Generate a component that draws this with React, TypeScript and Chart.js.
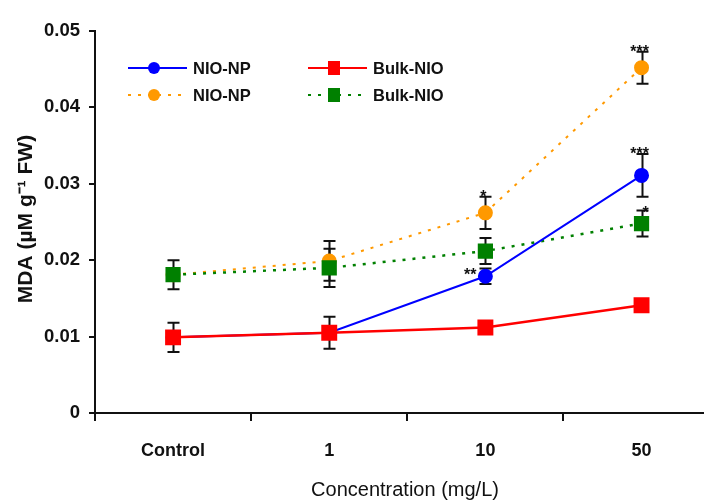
import React, { useEffect, useRef } from "react";
import { Chart, registerables } from "chart.js";
Chart.register(...registerables);

// ---- data ----
const categories = ["Control", "1", "10", "50"];
const seriesNames = ["NIO-NP", "Bulk-NIO", "NIO-NP", "Bulk-NIO"];
const yMin = 0;
const yMax = 0.05;
const yStep = 0.01;

const nioNpSolid = [0.0099, 0.0105, 0.0179, 0.0311];
const bulkNioSolid = [0.0099, 0.0105, 0.0112, 0.0141];
const nioNpDotted = [0.0181, 0.0199, 0.0262, 0.0452];
const bulkNioDotted = [0.0181, 0.019, 0.0212, 0.0248];

const nioNpSolidErr = [0, 0, 0.001, 0.0028];
const bulkNioSolidErr = [0.0019, 0.0021, 0, 0];
const nioNpDottedErr = [0, 0.0026, 0.0021, 0.0021];
const bulkNioDottedErr = [0.0019, 0.0025, 0.0017, 0.0017];

const nioNpSolidStars = ["", "", "**", "***"];
const bulkNioSolidStars = ["", "", "", ""];
const nioNpDottedStars = ["", "", "*", "***"];
const bulkNioDottedStars = ["", "", "", "*"];
// where each star label sits relative to its error bar
const nioNpSolidStarPos = ["", "", "left", "top"];
const bulkNioSolidStarPos = ["", "", "", ""];
const nioNpDottedStarPos = ["", "", "top", "top"];
const bulkNioDottedStarPos = ["", "", "", "topright"];

const xTitle = "Concentration (mg/L)";
const yTitle = "MDA (\u00B5M g\u207B\u00B9 FW)";

const FONT = '"Liberation Sans", Arial, sans-serif';
const TEXT = "#111111";

const toPts = (arr: number[]) => arr.map((v, i) => ({ x: i, y: v }));

const errorBarPlugin = {
  id: "errorBars",
  beforeDatasetsDraw(chart: any) {
    const { ctx } = chart;
    const xs = chart.scales.x;
    const ys = chart.scales.y;
    ctx.save();
    ctx.strokeStyle = TEXT;
    ctx.lineWidth = 2;
    chart.data.datasets.forEach((ds: any) => {
      ds.data.forEach((p: any, i: number) => {
        const e = ds.errors[i];
        if (!e) return;
        const px = Math.round(xs.getPixelForValue(p.x)) + 0.5;
        const t = ys.getPixelForValue(p.y + e);
        const b = ys.getPixelForValue(p.y - e);
        ctx.beginPath();
        ctx.moveTo(px, t);
        ctx.lineTo(px, b);
        ctx.moveTo(px - 6, t);
        ctx.lineTo(px + 6, t);
        ctx.moveTo(px - 6, b);
        ctx.lineTo(px + 6, b);
        ctx.stroke();
      });
    });
    ctx.restore();
  },
};

const starPlugin = {
  id: "stars",
  afterDatasetsDraw(chart: any) {
    const { ctx } = chart;
    const xs = chart.scales.x;
    const ys = chart.scales.y;
    ctx.save();
    ctx.fillStyle = TEXT;
    ctx.font = "bold 16px " + FONT;
    chart.data.datasets.forEach((ds: any) => {
      ds.data.forEach((p: any, i: number) => {
        const s = ds.stars[i];
        if (!s) return;
        const px = xs.getPixelForValue(p.x);
        const py = ys.getPixelForValue(p.y);
        const top = ys.getPixelForValue(p.y + (ds.errors[i] || 0));
        const pos = ds.starPos[i];
        if (pos === "top") {
          ctx.textAlign = "center";
          ctx.textBaseline = "alphabetic";
          ctx.fillText(s, px - 2, top + 5);
        } else if (pos === "left") {
          ctx.textAlign = "right";
          ctx.textBaseline = "alphabetic";
          ctx.fillText(s, px - 9, py + 4);
        } else if (pos === "topright") {
          ctx.textAlign = "left";
          ctx.textBaseline = "alphabetic";
          ctx.fillText(s, px + 1, top + 7);
        }
      });
    });
    ctx.restore();
  },
};

const legendPlugin = {
  id: "insideLegend",
  afterDraw(chart: any) {
    const { ctx } = chart;
    const slots = [
      { x: 128, y: 68 },
      { x: 308, y: 68 },
      { x: 128, y: 95 },
      { x: 308, y: 95 },
    ];
    ctx.save();
    chart.data.datasets.forEach((ds: any, i: number) => {
      const s = slots[i];
      ctx.strokeStyle = ds.borderColor;
      ctx.lineWidth = 2;
      ctx.setLineDash(ds.borderDash || []);
      ctx.beginPath();
      ctx.moveTo(s.x, s.y);
      ctx.lineTo(s.x + 59, s.y);
      ctx.stroke();
      ctx.setLineDash([]);
      ctx.fillStyle = ds.backgroundColor;
      const cx = s.x + 26;
      if (ds.pointStyle === "circle") {
        ctx.beginPath();
        ctx.arc(cx, s.y, 6, 0, Math.PI * 2);
        ctx.fill();
      } else {
        ctx.fillRect(cx - 6, s.y - 7, 12, 14);
      }
      ctx.fillStyle = TEXT;
      ctx.font = "bold 16.5px " + FONT;
      ctx.textAlign = "left";
      ctx.textBaseline = "middle";
      ctx.fillText(ds.label, s.x + 65, s.y + 1);
    });
    ctx.restore();
  },
};

const titlePlugin = {
  id: "axisTitles",
  afterDraw(chart: any) {
    const { ctx } = chart;
    ctx.save();
    ctx.fillStyle = TEXT;
    ctx.font = "20px " + FONT;
    ctx.textAlign = "center";
    ctx.textBaseline = "middle";
    ctx.fillText(xTitle, 405, 490);
    ctx.translate(26, 219);
    ctx.rotate(-Math.PI / 2);
    ctx.font = "bold 21px " + FONT;
    ctx.fillText(yTitle, 0, 0);
    ctx.restore();
  },
};

export default function App() {
  const ref = useRef<HTMLCanvasElement | null>(null);
  useEffect(() => {
    if (!ref.current) return;
    const chart = new Chart(ref.current, {
      type: "line",
      data: {
        datasets: [
          {
            label: seriesNames[0],
            data: toPts(nioNpSolid),
            errors: nioNpSolidErr,
            stars: nioNpSolidStars,
            starPos: nioNpSolidStarPos,
            borderColor: "#0000ff",
            backgroundColor: "#0000ff",
            borderWidth: 2,
            pointStyle: "circle",
            pointRadius: 6.5,
            order: 1,
          },
          {
            label: seriesNames[1],
            data: toPts(bulkNioSolid),
            errors: bulkNioSolidErr,
            stars: bulkNioSolidStars,
            starPos: bulkNioSolidStarPos,
            borderColor: "#ff0000",
            backgroundColor: "#ff0000",
            borderWidth: 2.5,
            pointStyle: "rect",
            pointRadius: 9.5,
            order: 0,
          },
          {
            label: seriesNames[2],
            data: toPts(nioNpDotted),
            errors: nioNpDottedErr,
            stars: nioNpDottedStars,
            starPos: nioNpDottedStarPos,
            borderColor: "#ff9900",
            backgroundColor: "#ff9900",
            borderWidth: 2,
            borderDash: [3, 7],
            pointStyle: "circle",
            pointRadius: 6.5,
            order: 3,
          },
          {
            label: seriesNames[3],
            data: toPts(bulkNioDotted),
            errors: bulkNioDottedErr,
            stars: bulkNioDottedStars,
            starPos: bulkNioDottedStarPos,
            borderColor: "#008000",
            backgroundColor: "#008000",
            borderWidth: 2.5,
            borderDash: [3, 7],
            pointStyle: "rect",
            pointRadius: 9,
            order: 2,
          },
        ] as any,
      },
      options: {
        animation: false,
        responsive: false,
        devicePixelRatio: 1,
        layout: { autoPadding: false, padding: { top: 31, right: 0, left: 0, bottom: 0 } },
        plugins: { legend: { display: false }, tooltip: { enabled: false } },
        scales: {
          x: {
            type: "linear",
            min: -0.5,
            max: 3.4,
            afterBuildTicks: (scale: any) => {
              scale.ticks = categories.map((_, i) => ({ value: i }));
            },
            afterFit: (scale: any) => {
              scale.height = 89;
              scale.paddingLeft = 0;
              scale.paddingRight = 0;
            },
            grid: {
              offset: true,
              drawOnChartArea: false,
              drawTicks: true,
              tickLength: 8,
              color: TEXT,
              lineWidth: 2,
            },
            border: { display: true, color: TEXT, width: 2 },
            ticks: {
              padding: 19,
              color: TEXT,
              font: { family: FONT, size: 18, weight: "bold" },
              callback: (v: any) => categories[v] ?? "",
              maxRotation: 0,
              autoSkip: false,
            },
          },
          y: {
            type: "linear",
            min: yMin,
            max: yMax,
            afterFit: (scale: any) => {
              scale.width = 95;
            },
            grid: {
              drawOnChartArea: false,
              drawTicks: true,
              tickLength: 6,
              color: TEXT,
              lineWidth: 2,
            },
            border: { display: true, color: TEXT, width: 2 },
            ticks: {
              stepSize: yStep,
              padding: 9,
              color: TEXT,
              font: { family: FONT, size: 18.5, weight: "bold" },
              callback: (v: any) => (v === 0 ? "0" : Number(v).toFixed(2)),
            },
          },
        },
      } as any,
      plugins: [errorBarPlugin, starPlugin, legendPlugin, titlePlugin],
    });
    return () => chart.destroy();
  }, []);
  return (
    <div style={{ position: "fixed", left: 0, top: 0, width: 704, height: 502, background: "#fff" }}>
      <canvas ref={ref} width={704} height={502} style={{ width: 704, height: 502 }} />
    </div>
  );
}
